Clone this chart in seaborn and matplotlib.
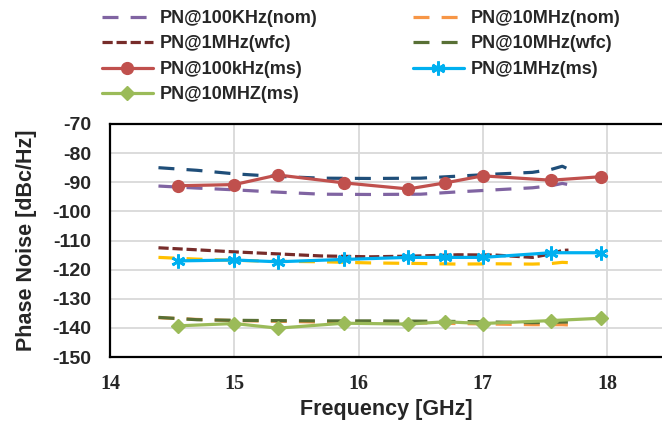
import matplotlib
matplotlib.use("Agg")
import matplotlib.pyplot as plt
import seaborn as sns

sns.set_theme(style="white")
plt.rcParams["font.family"] = ["Liberation Sans", "DejaVu Sans"]
plt.rcParams["font.weight"] = "bold"

# Measured phase noise (ms) at the synthesizer test frequencies
ms_freq = [14.55, 15.0, 15.35, 15.88, 16.4, 16.7, 17.0, 17.55, 17.95]
pn_100k_ms = [-91.2, -90.8, -87.5, -90.2, -92.3, -90.2, -87.8, -89.3, -88.1]
pn_1m_ms = [-117.0, -116.7, -117.3, -116.5, -115.8, -115.8, -115.8, -114.2, -114.2]
pn_10m_ms = [-139.3, -138.5, -140.1, -138.4, -138.7, -137.9, -138.5, -137.5, -136.7]

# Simulated phase noise, nominal (nom) and worst-case (wfc) corners
sim_freq = [14.39, 14.7, 15.0, 15.3, 15.7, 16.1, 16.5, 16.8, 17.1, 17.4, 17.55, 17.64, 17.69]
pn_100k_nom = [-91.3, -92.0, -92.6, -93.3, -94.1, -94.2, -94.1, -93.3, -92.6, -91.9, -91.2, -90.4, -90.8]
pn_100k_wfc = [-85.0, -85.9, -87.1, -87.9, -88.6, -88.7, -88.6, -87.9, -87.2, -86.6, -85.6, -84.5, -85.5]
pn_1m_nom = [-115.8, -116.4, -116.8, -117.1, -117.3, -117.7, -117.9, -118.1, -118.0, -118.1, -117.9, -117.5, -117.6]
pn_1m_wfc = [-112.5, -113.2, -113.9, -114.5, -115.3, -115.6, -115.3, -114.9, -115.0, -115.8, -114.6, -113.4, -113.3]
pn_10m_nom = [-136.5, -137.1, -137.5, -137.7, -138.0, -138.2, -138.3, -138.5, -138.7, -138.9, -138.9, -138.9, -139.0]
pn_10m_wfc = [-136.4, -137.2, -137.4, -137.5, -137.6, -137.6, -137.7, -137.8, -138.0, -138.2, -138.1, -138.0, -138.0]

y_ticks = [-70, -80, -90, -100, -110, -120, -130, -140, -150]
x_ticks = [14, 15, 16, 17, 18]

LONG = (0, (5, 3.8))
SHORT = (0, (3.2, 1.2))
LW = 2.3

fig = plt.figure(figsize=(6.62, 4.23), dpi=100)
ax = fig.add_axes([110 / 662, 66 / 423, 552 / 662, 233 / 423])

sim_series = [
    (pn_100k_wfc, "#1F4E79", LONG, None),
    (pn_100k_nom, "#8064A2", LONG, "PN@100KHz(nom)"),
    (pn_1m_nom, "#FFC000", LONG, None),
    (pn_1m_wfc, "#772C2A", SHORT, "PN@1MHz(wfc)"),
    (pn_10m_nom, "#F79646", LONG, "PN@10MHz(nom)"),
    (pn_10m_wfc, "#587035", LONG, "PN@10MHz(wfc)"),
]
for vals, col, ls, lab in sim_series:
    sns.lineplot(x=sim_freq, y=vals, ax=ax, color=col, linewidth=LW,
                 linestyle=ls, label=lab if lab else "_nolegend_")

ms_series = [
    (pn_100k_ms, "#C0504D", "o", 8.5, 1.0, "PN@100kHz(ms)"),
    (pn_1m_ms, "#00B0F0", (6, 2, 0), 10, 2.0, "PN@1MHz(ms)"),
    (pn_10m_ms, "#9BBB59", "D", 6.8, 1.0, "PN@10MHZ(ms)"),
]
for vals, col, mk, ms, mew, lab in ms_series:
    sns.lineplot(x=ms_freq, y=vals, ax=ax, color=col, linewidth=LW,
                 marker=mk, markersize=ms, markeredgecolor=col,
                 markerfacecolor=col, markeredgewidth=mew, label=lab)

handles, labels = ax.get_legend_handles_labels()
if ax.get_legend() is not None:
    ax.get_legend().remove()
lookup = dict(zip(labels, handles))
order = ["PN@100KHz(nom)", "PN@1MHz(wfc)", "PN@100kHz(ms)", "PN@10MHZ(ms)",
         "PN@10MHz(nom)", "PN@10MHz(wfc)", "PN@1MHz(ms)"]
fig.legend([lookup[k] for k in order], order, ncol=2, loc="upper left",
           bbox_to_anchor=(102 / 662, 1 - 10 / 423), frameon=False,
           borderpad=0, borderaxespad=0, handlelength=2.8, handletextpad=0.4,
           columnspacing=5.3, labelspacing=0.47,
           prop={"family": "Liberation Sans", "weight": "bold", "size": 13})

ax.set_xlim(14, 14 + 552 / 124.25)
ax.set_ylim(-150, -70)
ax.set_yticks(y_ticks)
ax.set_xticks(x_ticks)
ax.set_yticklabels([str(v) for v in y_ticks],
                   fontdict={"family": "Liberation Sans", "weight": "bold", "size": 14})
ax.set_xticklabels([str(v) for v in x_ticks],
                   fontdict={"family": "Liberation Serif", "weight": "bold", "size": 14.5})
ax.tick_params(axis="both", length=0)
ax.tick_params(axis="y", pad=13.5)
ax.tick_params(axis="x", pad=12.5)
ax.grid(True, color="#D9D9D9", linewidth=1.3)
ax.set_axisbelow(True)
for side in ("left", "top", "bottom"):
    ax.spines[side].set_color("black")
    ax.spines[side].set_linewidth(1.6)
ax.spines["right"].set_visible(False)

ax.set_xlabel("Frequency [GHz]", fontsize=15.5, fontweight="bold",
              family="Liberation Sans", labelpad=3)
ax.set_ylabel("Phase Noise [dBc/Hz]", fontsize=15.5, fontweight="bold",
              family="Liberation Sans", labelpad=11)

fig.savefig("out.png", dpi=100)
